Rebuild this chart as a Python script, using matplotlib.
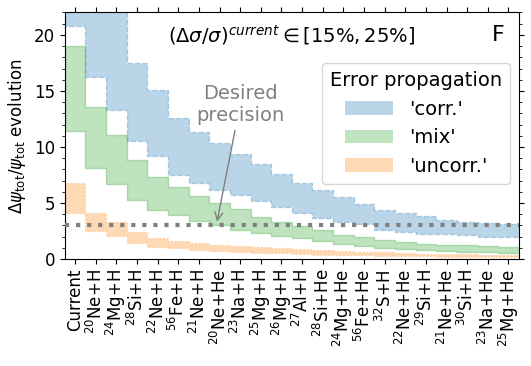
import numpy as np
import matplotlib
matplotlib.use("Agg")
import matplotlib.pyplot as plt
from matplotlib.patches import Patch
from matplotlib.ticker import MultipleLocator

# reactions, ordered by the step in which their cross section is improved
labels = ["Current", r"$^{20}$Ne+H", r"$^{24}$Mg+H", r"$^{28}$Si+H", r"$^{22}$Ne+H",
          r"$^{56}$Fe+H", r"$^{21}$Ne+H", r"$^{20}$Ne+He", r"$^{23}$Na+H", r"$^{25}$Mg+H",
          r"$^{26}$Mg+H", r"$^{27}$Al+H", r"$^{28}$Si+He", r"$^{24}$Mg+He", r"$^{56}$Fe+He",
          r"$^{32}$S+H", r"$^{22}$Ne+He", r"$^{29}$Si+H", r"$^{21}$Ne+He", r"$^{30}$Si+H",
          r"$^{23}$Na+He", r"$^{25}$Mg+He"]

# 'corr.' band
corr_hi = [27.0, 24.0, 22.5, 17.5, 15.1, 12.6, 11.3, 10.38, 9.4, 8.51, 7.62,
           6.82, 6.14, 5.54, 4.95, 4.42, 4.12, 3.83, 3.47, 3.32, 3.23, 3.17]
corr_lo = [20.8, 16.2, 13.3, 10.5, 9.16, 7.53, 6.8, 6.2, 5.69, 5.19, 4.66,
           4.12, 3.71, 3.32, 3.1, 2.64, 2.43, 2.28, 2.22, 2.13, 1.99, 1.93]
# 'mix' band
mix_hi = [19.0, 13.6, 11.1, 8.87, 7.32, 6.43, 5.63, 5.01, 4.45, 3.8, 3.3,
          2.95, 2.58, 2.19, 1.93, 1.75, 1.54, 1.39, 1.30, 1.22, 1.13, 1.04]
mix_lo = [11.4, 8.16, 6.73, 5.31, 4.42, 3.91, 3.41, 3.02, 2.64, 2.32, 2.02,
          1.85, 1.62, 1.39, 1.16, 0.98, 0.86, 0.80, 0.74, 0.68, 0.62, 0.56]
# 'uncorr.' band
unc_hi = [6.82, 4.12, 3.32, 2.43, 1.84, 1.63, 1.45, 1.30, 1.17, 1.05, 0.95,
          0.86, 0.78, 0.71, 0.65, 0.60, 0.55, 0.50, 0.46, 0.42, 0.38, 0.35]
unc_lo = [4.12, 2.49, 2.08, 1.48, 1.10, 0.95, 0.80, 0.72, 0.64, 0.57, 0.51,
          0.46, 0.41, 0.37, 0.33, 0.30, 0.27, 0.24, 0.22, 0.20, 0.18, 0.16]

desired = 3.0

fig = plt.figure(figsize=(5.31, 3.66), dpi=100)
ax = fig.add_axes([0.122, 0.292, 0.855, 0.674])

n = len(labels)
edges = np.arange(n + 1) - 0.5


def band(lo, hi, color, ls):
    lo = np.append(lo, lo[-1])
    hi = np.append(hi, hi[-1])
    ax.fill_between(edges, lo, hi, step="post", color=color, alpha=0.3, linestyle=ls, lw=1.0)


band(corr_lo, corr_hi, "tab:blue", "--")
band(mix_lo, mix_hi, "tab:green", "-")
band(unc_lo, unc_hi, "tab:orange", ":")

ax.axhline(desired, color="gray", ls=":", lw=3, zorder=5)

ax.annotate("Desired\nprecision", xy=(6.85, 3.1), xytext=(8.0, 13.8), ha="center", va="center",
            color="gray", fontsize=14, arrowprops=dict(arrowstyle="->", color="gray", lw=1))

ax.text(0.5, 0.91, r"$(\Delta\sigma/\sigma)^{current} \in [15\%, 25\%]$", transform=ax.transAxes,
        ha="center", va="center", fontsize=14)
ax.text(0.955, 0.91, "F", transform=ax.transAxes, ha="center", va="center", fontsize=16)

handles = [Patch(facecolor="tab:blue", alpha=0.3, label="'corr.'"),
           Patch(facecolor="tab:green", alpha=0.3, label="'mix'"),
           Patch(facecolor="tab:orange", alpha=0.3, label="'uncorr.'")]
ax.legend(handles=handles, title="Error propagation", loc="upper right", bbox_to_anchor=(0.98, 0.795),
          borderaxespad=0, fontsize=14, title_fontsize=14, handlelength=2.5)

ax.set_xlim(-0.5, n - 0.5)
ax.set_ylim(0, 22)
ax.set_xticks(np.arange(n))
ax.set_xticklabels(labels, rotation=90, fontsize=12)
ax.yaxis.set_major_locator(MultipleLocator(5))
ax.yaxis.set_minor_locator(MultipleLocator(1))
ax.tick_params(axis="y", labelsize=12)
ax.tick_params(which="both", top=True, right=True)
ax.set_ylabel(r"$\Delta\psi_{\rm tot}/\psi_{\rm tot}$ evolution", fontsize=12)

fig.savefig("out.png", dpi=100)
